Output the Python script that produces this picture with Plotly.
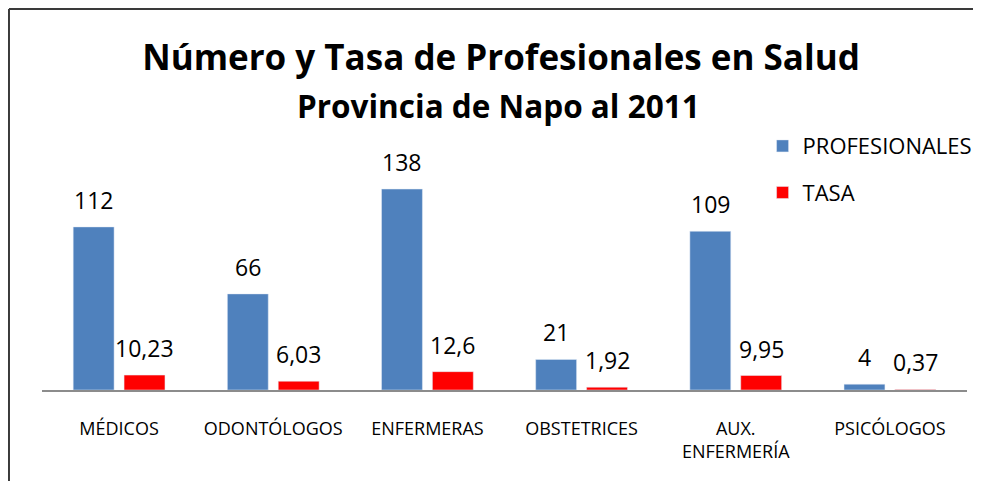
import plotly.graph_objects as go

categorias = ["MÉDICOS", "ODONTÓLOGOS", "ENFERMERAS", "OBSTETRICES", "AUX.<br>ENFERMERÍA", "PSICÓLOGOS"]
profesionales = [112, 66, 138, 21, 109, 4]
tasa = [10.23, 6.03, 12.6, 1.92, 9.95, 0.37]

azul = "#4f81bd"
rojo = "#ff0000"
fuente = "Open Sans"

fig = go.Figure()
fig.add_trace(go.Bar(x=categorias, y=profesionales, name="PROFESIONALES",
                     marker=dict(color=azul), legendgroup="a"))
fig.add_trace(go.Bar(x=categorias, y=tasa, name="TASA",
                     marker=dict(color=rojo), legendgroup="b"))

# etiquetas de datos, separadas de la barra como en Excel
def fmt(v):
    return f"{v:g}".replace(".", ",")

for serie, desplaz in ((profesionales, -25.5), (tasa, 25.5)):
    for cat, v in zip(categorias, serie):
        fig.add_annotation(x=cat, y=v, text=fmt(v), showarrow=False,
                           xshift=desplaz, yshift=9, yanchor="bottom",
                           font=dict(family=fuente, size=23, color="black"))

fig.add_annotation(text="<b>Provincia de Napo al 2011</b>", xref="paper", yref="paper",
                   x=0.494, y=1.223, yanchor="middle", showarrow=False,
                   font=dict(family=fuente, size=31.5, color="black"))

# marco del gráfico: solo se ven los bordes izquierdo y superior
borde = dict(color="#3a3a3a", width=2)
fig.add_shape(type="line", xref="paper", yref="paper",
              x0=-0.0357, x1=-0.0357, y0=-0.8, y1=1.635, line=borde)
fig.add_shape(type="line", xref="paper", yref="paper",
              x0=-0.0357, x1=1.3, y0=1.635, y1=1.635, line=borde)

# la página tiene 8 px de margen por lado: la figura ocupa 965x473 sin barras de desplazamiento
fig.update_layout(
    width=965, height=473,
    title=dict(text="<b>Número y Tasa de Profesionales en Salud</b>",
               x=0.5109, xanchor="center", y=0.8943, yanchor="middle",
               font=dict(family=fuente, size=35, color="black")),
    barmode="group", bargap=0.34, bargroupgap=0.196,
    margin=dict(l=34, r=6, t=149, b=91, autoexpand=False),
    plot_bgcolor="white", paper_bgcolor="white",
    font=dict(family=fuente, color="black"),
    showlegend=True,
    legend=dict(x=0.779, xanchor="left", y=0.946, yanchor="middle",
                font=dict(family=fuente, size=22), tracegroupgap=15,
                traceorder="grouped", itemwidth=30),
    xaxis=dict(showline=True, linecolor="#8c8c8c", linewidth=2,
               tickfont=dict(family=fuente, size=18), ticklabelstandoff=21),
    yaxis=dict(visible=False, range=[0, 160]),
)

fig.write_html("out.html")
